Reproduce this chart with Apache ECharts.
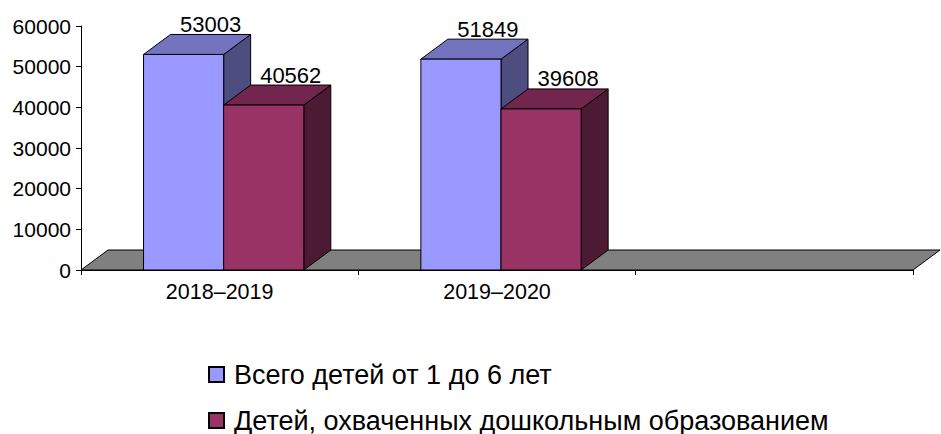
<!DOCTYPE html>
<html>
<head>
<meta charset="utf-8">
<script src="https://cdn.jsdelivr.net/npm/echarts@6/dist/echarts.min.js"></script>
<style>
  html, body { margin: 0; padding: 0; background: #fff; }
  #chart { width: 941px; height: 434px; }
</style>
</head>
<body>
<div id="chart"></div>
<script>
// data
var categories = ['2018–2019', '2019–2020', ''];
var seriesNames = ['Всего детей от 1 до 6 лет', 'Детей, охваченных дошкольным образованием'];
var totalKids = [53003, 51849, null];
var coveredKids = [40562, 39608, null];
var yTicks = [0, 10000, 20000, 30000, 40000, 50000, 60000];

// colours: front, top, side
var palette = [
	['#9999FF', '#7373BF', '#4D4D80'],
	['#993366', '#73264D', '#4D1A33']
];
var DX = 27, DY = -20;   // 3d depth offset
var FONT = 'Arial, "Liberation Sans", sans-serif';

function toData(arr) {
	var out = [];
	for (var i = 0; i < arr.length; i++) {
		if (arr[i] != null) out.push([i, arr[i]]);
	}
	return out;
}

// one 3d column: front, top, side + value label
function makeBar(k) {
	return function (params, api) {
		var idx = api.value(0), val = api.value(1);
		var base = api.coord([idx, 0]);
		var top = api.coord([idx, val]);
		var band = api.size([1, 0])[0];
		var w = band * 0.289;
		var x0 = base[0] - w + 4 + k * w;
		var x1 = x0 + w;
		var y0 = top[1], y1 = base[1];
		var c = palette[k];
		var st = { stroke: '#000', lineWidth: 1 };
		return {
			type: 'group',
			children: [
				{ type: 'polygon', shape: { points: [[x1, y0], [x1 + DX, y0 + DY], [x1 + DX, y1 + DY], [x1, y1]] },
				  style: Object.assign({ fill: c[2] }, st) },
				{ type: 'polygon', shape: { points: [[x0, y0], [x0 + DX, y0 + DY], [x1 + DX, y0 + DY], [x1, y0]] },
				  style: Object.assign({ fill: c[1] }, st) },
				{ type: 'rect', shape: { x: x0, y: y0, width: w, height: y1 - y0 },
				  style: Object.assign({ fill: c[0] }, st) },
				{ type: 'text', x: (x0 + x1) / 2 + DX, y: y0 + DY - 10,
				  style: { text: String(val), fill: '#000', font: '22px ' + FONT, align: 'center', verticalAlign: 'middle' } }
			]
		};
	};
}

// one legend block per row, so the second row never wraps into a column
function legendRow(name, top) {
	return {
		orient: 'vertical',
		left: 208,
		top: top,
		padding: 0,
		itemWidth: 15,
		itemHeight: 15,
		icon: 'rect',
		data: [name],
		textStyle: { fontSize: 27, color: '#000', fontFamily: FONT, padding: [0, 0, 0, 5] }
	};
}

var chart = echarts.init(document.getElementById('chart'), null, { renderer: 'svg' });
var option = {
	animation: false,
	textStyle: { fontFamily: FONT },
	grid: { left: 81, right: 28, top: 26, bottom: 164 },
	legend: [legendRow(seriesNames[0], 361), legendRow(seriesNames[1], 407)],
	xAxis: {
		type: 'category',
		data: categories,
		axisLine: { lineStyle: { color: '#000', width: 1 } },
		axisTick: { show: true, length: 5, lineStyle: { color: '#000' } },
		axisLabel: { color: '#000', fontSize: 21.5, margin: 11 },
		splitLine: { show: false }
	},
	yAxis: {
		type: 'value',
		min: yTicks[0],
		max: yTicks[yTicks.length - 1],
		interval: yTicks[1] - yTicks[0],
		axisLine: { show: true, lineStyle: { color: '#000', width: 1 } },
		axisTick: { show: true, length: 5, lineStyle: { color: '#000' } },
		axisLabel: { color: '#000', fontSize: 21, margin: 10, formatter: function (v) { return String(v); } },
		splitLine: { show: false }
	},
	series: [
		{
			name: 'floor',
			type: 'custom',
			silent: true,
			z: 1,
			data: [[0, 0]],
			renderItem: function (params, api) {
				var cs = params.coordSys;
				var yb = cs.y + cs.height;
				return {
					type: 'polygon',
					shape: { points: [[cs.x, yb], [cs.x + DX, yb + DY], [cs.x + cs.width + DX, yb + DY], [cs.x + cs.width, yb]] },
					style: { fill: '#808080', stroke: '#000', lineWidth: 1 }
				};
			}
		},
		{
			name: seriesNames[0],
			type: 'custom',
			z: 2,
			itemStyle: { color: palette[0][0], borderColor: '#000', borderWidth: 1 },
			data: toData(totalKids),
			renderItem: makeBar(0)
		},
		{
			name: seriesNames[1],
			type: 'custom',
			z: 3,
			itemStyle: { color: palette[1][0], borderColor: '#000', borderWidth: 1 },
			data: toData(coveredKids),
			renderItem: makeBar(1)
		}
	]
};
chart.setOption(option);
</script>
</body>
</html>
